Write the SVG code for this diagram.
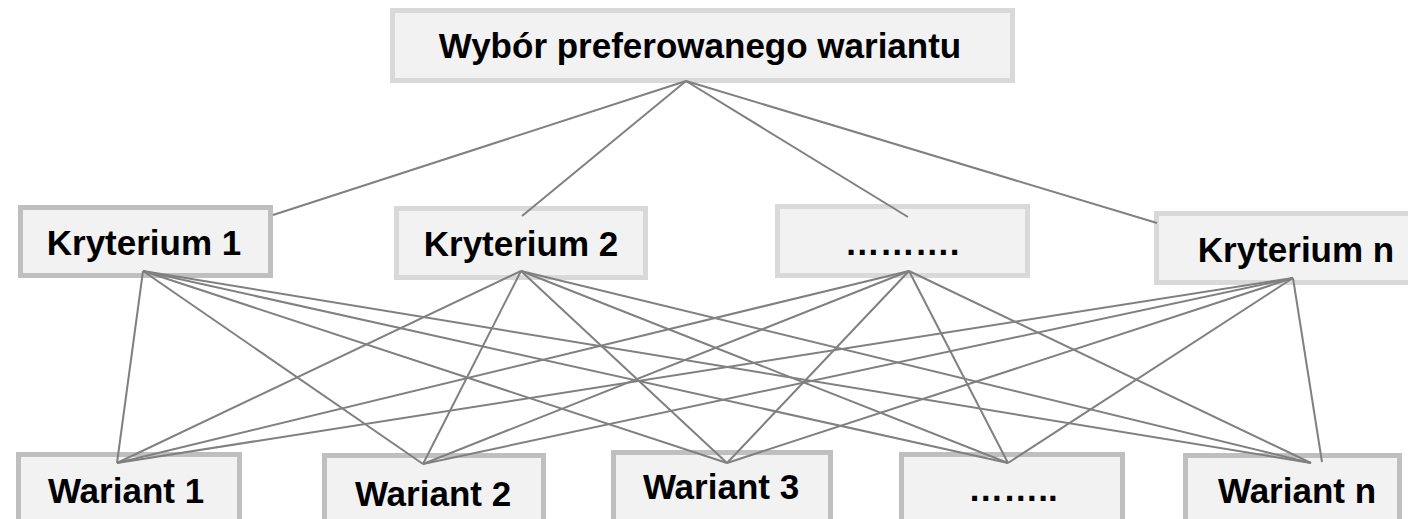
<svg xmlns="http://www.w3.org/2000/svg" width="1408" height="519" viewBox="0 0 1408 519">
<style>
.box{fill:#f2f2f2;stroke-width:5}
.dk{stroke:#bfbfbf}
.lt{stroke:#d9d9d9}
.lbl{font-family:"Liberation Sans",Arial,sans-serif;font-weight:bold;font-size:35px;fill:#000;text-anchor:middle}
.cn line{stroke:#808080;stroke-width:2;fill:none}
</style>
<rect width="1408" height="519" fill="#ffffff"/>
<g id="nodes">
<g id="top"><rect class="box lt" x="392.5" y="10.5" width="620" height="70"/><text class="lbl" x="700" y="58">Wybór preferowanego wariantu</text></g>
<g id="k1"><rect class="box dk" x="20.5" y="207.5" width="250" height="68"/><text class="lbl" x="144" y="255">Kryterium 1</text></g>
<g id="k2"><rect class="box lt" x="396.5" y="208.5" width="249" height="69"/><text class="lbl" x="521" y="256">Kryterium 2</text></g>
<g id="k3"><rect class="box lt" x="777.5" y="206.5" width="250" height="69"/><text class="lbl" x="902" y="255">……….</text></g>
<g id="kn"><rect class="box lt" x="1156.5" y="213.5" width="270" height="69"/><text class="lbl" x="1296" y="262">Kryterium n</text></g>
<g id="w1"><rect class="box dk" x="18.5" y="454.5" width="221" height="90"/><text class="lbl" x="126" y="503">Wariant 1</text></g>
<g id="w2"><rect class="box dk" x="324.5" y="455.5" width="219" height="90"/><text class="lbl" x="433" y="506">Wariant 2</text></g>
<g id="w3"><rect class="box dk" x="613.5" y="452.5" width="217" height="90"/><text class="lbl" x="721" y="499">Wariant 3</text></g>
<g id="w4"><rect class="box dk" x="901.5" y="454.5" width="221" height="90"/><text class="lbl" x="1013" y="501">……..</text></g>
<g id="wn"><rect class="box dk" x="1185.5" y="455.5" width="214" height="90"/><text class="lbl" x="1297" y="503">Wariant n</text></g>
</g>
<g id="connectors" class="cn">
<line x1="686" y1="81" x2="273" y2="215"/>
<line x1="686" y1="81" x2="522" y2="216"/>
<line x1="686" y1="81" x2="908" y2="217"/>
<line x1="686" y1="81" x2="1157" y2="223"/>
<line x1="143" y1="271" x2="117" y2="463"/>
<line x1="143" y1="271" x2="423" y2="464"/>
<line x1="143" y1="271" x2="727" y2="463"/>
<line x1="143" y1="271" x2="1008" y2="463"/>
<line x1="143" y1="271" x2="1311" y2="463"/>
<line x1="521" y1="271" x2="117" y2="463"/>
<line x1="521" y1="271" x2="423" y2="464"/>
<line x1="521" y1="271" x2="727" y2="463"/>
<line x1="521" y1="271" x2="1008" y2="463"/>
<line x1="521" y1="271" x2="1311" y2="463"/>
<line x1="909" y1="271" x2="117" y2="463"/>
<line x1="909" y1="271" x2="423" y2="464"/>
<line x1="909" y1="271" x2="727" y2="463"/>
<line x1="909" y1="271" x2="1008" y2="463"/>
<line x1="909" y1="271" x2="1311" y2="463"/>
<line x1="1293" y1="278" x2="117" y2="463"/>
<line x1="1293" y1="278" x2="423" y2="464"/>
<line x1="1293" y1="278" x2="727" y2="463"/>
<line x1="1293" y1="278" x2="1008" y2="463"/>
<line x1="1293" y1="278" x2="1322" y2="462"/>
</g>
</svg>
